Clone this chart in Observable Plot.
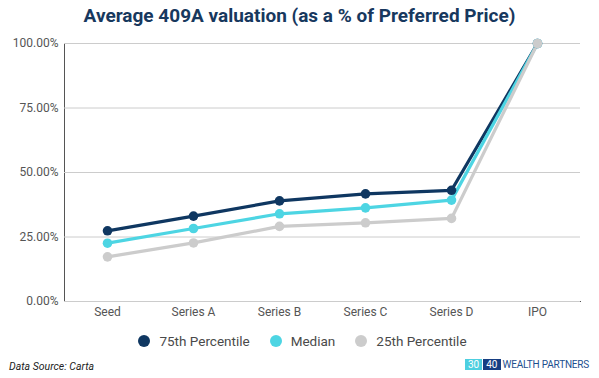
<!DOCTYPE html>
<html>
<head>
<meta charset="utf-8">
<script src="https://cdn.jsdelivr.net/npm/d3@7"></script>
<script src="https://cdn.jsdelivr.net/npm/@observablehq/plot@0.6"></script>
<style>
  html, body { margin: 0; padding: 0; background: #fff; }
  body { width: 599px; height: 378px; position: relative; overflow: hidden; font-family: Roboto, "Noto Sans", sans-serif; }
  #title { position: absolute; left: 0; top: 4px; width: 599px; text-align: center; font-size: 19px; font-weight: 700; color: #17385e; }
  #chart { position: absolute; left: 0; top: 0; }
  #legend { position: absolute; left: 0; top: 333px; width: 599px; display: flex; justify-content: center; gap: 20px; font-size: 13.5px; color: #4a4a4a; padding-left: 6px; box-sizing: border-box; }
  #legend span.item { display: inline-flex; align-items: center; }
  #legend span.dot { width: 12px; height: 12px; border-radius: 50%; display: inline-block; margin-right: 9px; }
  #source { position: absolute; left: 9px; top: 360px; font-size: 10.5px; font-style: italic; color: #222; }
  #logo { position: absolute; left: 465px; top: 359px; display: flex; align-items: center; font-size: 10px; height: 11px; }
  #logo .b { color: #fff; padding: 0 3px; line-height: 11px; height: 11px; display: inline-block; }
  #logo .t { color: #1d4f8f; margin-left: 2px; letter-spacing: -0.2px; }
</style>
</head>
<body>
<div id="chart"></div>
<div id="title">Average 409A valuation (as a % of Preferred Price)</div>
<div id="legend"></div>
<div id="source">Data Source: Carta</div>
<div id="logo"><span class="b" style="background:#4dcfe0">30</span><span class="b" style="background:#163e82;margin-left:1px">40</span><span class="t">WEALTH PARTNERS</span></div>
<script>
const stages = ["Seed", "Series A", "Series B", "Series C", "Series D", "IPO"];
const p75 = [27.4, 33.1, 39.0, 41.7, 43.1, 100];
const median = [22.6, 28.3, 34.0, 36.3, 39.3, 100];
const p25 = [17.3, 22.7, 29.1, 30.5, 32.2, 100];
const seriesNames = ["75th Percentile", "Median", "25th Percentile"];
const seriesColors = ["#0f3761", "#4dd5e3", "#cccccc"];
const yTicks = [0, 25, 50, 75, 100];

const seriesValues = [p75, median, p25];
const data = seriesNames.flatMap((name, i) =>
  stages.map((s, j) => ({stage: s, value: seriesValues[i][j], series: name}))
);

const plot = Plot.plot({
  width: 599,
  height: 325,
  marginTop: 43,
  marginBottom: 24,
  marginLeft: 64,
  marginRight: 19,
  style: {fontFamily: "Roboto, sans-serif", fontSize: "12px", color: "#555", background: "transparent"},
  x: {type: "point", domain: stages, padding: 0.5, label: null, tickSize: 0, tickPadding: 6, line: true},
  y: {domain: [0, 100], ticks: yTicks, tickFormat: d => d.toFixed(2) + "%", label: null, tickSize: 0, tickPadding: 6, line: true},
  color: {domain: seriesNames, range: seriesColors},
  marks: [
    Plot.gridY(yTicks, {stroke: "#cccccc", strokeOpacity: 1}),
    Plot.line(data, {x: "stage", y: "value", z: "series", stroke: "series", strokeWidth: 3.2}),
    Plot.dot(data, {x: "stage", y: "value", fill: "series", r: 4.8})
  ]
});
d3.select(plot).selectAll("[aria-label='y-axis'] text, [aria-label='x-axis'] text").attr("fill", "#555");
d3.select(plot).selectAll("[aria-label='y-axis'] text").style("font-size", "12px");
d3.select(plot).selectAll("[aria-label='y-axis'] path, [aria-label='x-axis'] path, [aria-label='y-axis'] line, [aria-label='x-axis'] line").attr("stroke", "#333");
document.getElementById("chart").appendChild(plot);

const legend = d3.select("#legend");
seriesNames.forEach((n, i) => {
  const it = legend.append("span").attr("class", "item");
  it.append("span").attr("class", "dot").style("background", seriesColors[i]);
  it.append("span").text(n);
});
</script>
</body>
</html>
